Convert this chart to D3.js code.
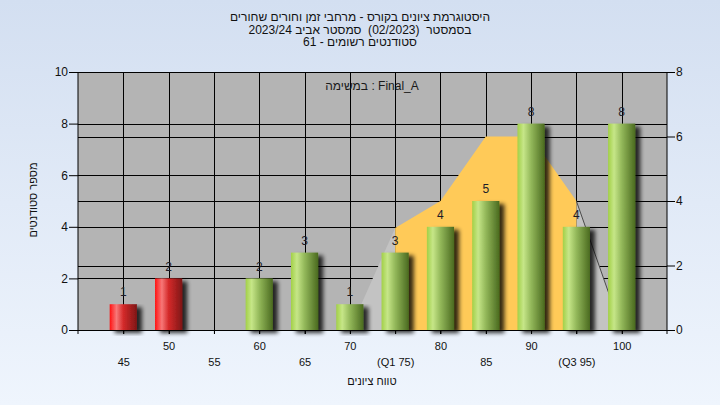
<!DOCTYPE html>
<html>
<head>
<meta charset="utf-8">
<script src="https://cdn.jsdelivr.net/npm/d3@7"></script>
<style>
  html, body { margin: 0; padding: 0; }
  body { width: 720px; height: 405px; overflow: hidden; }
  text { font-family: "Liberation Sans", Arial, "DejaVu Sans", sans-serif; }
</style>
</head>
<body>
<svg id="chart" width="720" height="405"></svg>
<script>
// ---- data ----
const categories = [45, 50, 55, 60, 65, 70, 75, 80, 85, 90, 95, 100];
const tickLabels = ["45", "50", "55", "60", "65", "70", "(Q1 75)", "80", "85", "90", "(Q3 95)", "100"];
const counts = [1, 2, 0, 2, 3, 1, 3, 4, 5, 8, 4, 8];
const failing = [true, true, false, false, false, false, false, false, false, false, false, false];
const curveX = [70, 75, 80, 85, 90, 95, 100];
const curveY = [0, 3.95, 5.0, 7.5, 7.5, 5.0, 0];
const q1 = 75, q3 = 95;
const leftTicks = [0, 2, 4, 6, 8, 10];
const rightTicks = [0, 2, 4, 6, 8];
const titleLines = [
  "היסטוגרמת ציונים בקורס - מרחבי זמן וחורים שחורים",
  "בסמסטר  (02/2023)  סמסטר אביב 2023/24",
  "סטודנטים רשומים - 61"
];
const legendText = "במשימה : Final_A";
const yTitle = "מספר סטודנטים";
const xTitle = "טווח ציונים";

// ---- layout ----
const W = 720, H = 405;
const L = 78, R = 667, T = 72, B = 330;
const svg = d3.select("#chart");
const defs = svg.append("defs");

const bg = defs.append("linearGradient").attr("id", "bg").attr("x1", 0).attr("y1", 0).attr("x2", 0).attr("y2", 1);
bg.append("stop").attr("offset", "0%").attr("stop-color", "#d3dff1");
bg.append("stop").attr("offset", "100%").attr("stop-color", "#eff5fd");

function cyl(id, stops) {
  const g = defs.append("linearGradient").attr("id", id).attr("x1", 0).attr("y1", 0).attr("x2", 1).attr("y2", 0);
  stops.forEach(s => g.append("stop").attr("offset", s[0]).attr("stop-color", s[1]));
}
cyl("gGreen", [["0%", "#a2d047"], ["22%", "#c6e688"], ["50%", "#93b85a"], ["100%", "#4a6a1f"]]);
cyl("gRed", [["0%", "#ff1212"], ["25%", "#f77878"], ["50%", "#d42a2a"], ["100%", "#7e1616"]]);

const sh = defs.append("filter").attr("id", "shadow").attr("x", "-30%").attr("y", "-10%").attr("width", "170%").attr("height", "130%");
sh.append("feGaussianBlur").attr("in", "SourceAlpha").attr("stdDeviation", 2).attr("result", "b");
sh.append("feOffset").attr("in", "b").attr("dx", 5).attr("dy", 3).attr("result", "o");
sh.append("feComponentTransfer").attr("in", "o").attr("result", "o2")
  .append("feFuncA").attr("type", "linear").attr("slope", 0.8);
const m = sh.append("feMerge");
m.append("feMergeNode").attr("in", "o2");
m.append("feMergeNode").attr("in", "SourceGraphic");

svg.append("rect").attr("width", W).attr("height", H).attr("fill", "url(#bg)");

// scales
const x = d3.scaleLinear().domain([40, 105]).range([L, R]);
const yL = d3.scaleLinear().domain([0, 10]).range([B, T]);
const yR = d3.scaleLinear().domain([0, 8]).range([B, T]);

// plot background
svg.append("rect").attr("x", L).attr("y", T).attr("width", R - L).attr("height", B - T).attr("fill", "#b4b4b4");

// gridlines
const grid = svg.append("g").attr("stroke", "#000").attr("stroke-width", 1);
leftTicks.forEach(v => grid.append("line").attr("x1", L).attr("x2", R).attr("y1", Math.round(yL(v)) + 0.5).attr("y2", Math.round(yL(v)) + 0.5));
rightTicks.forEach(v => grid.append("line").attr("x1", L).attr("x2", R).attr("y1", Math.round(yR(v)) + 0.5).attr("y2", Math.round(yR(v)) + 0.5));
categories.forEach(c => grid.append("line").attr("x1", Math.round(x(c)) + 0.5).attr("x2", Math.round(x(c)) + 0.5).attr("y1", T).attr("y2", B + 4));

// area curve
const pts = curveX.map((c, i) => ({ c, v: curveY[i] }));
const area = d3.area().x(d => x(d.c)).y0(yL(0)).y1(d => yL(d.v));
svg.append("path").datum(pts.filter(d => d.c <= q1)).attr("d", area).attr("fill", "#c3c3c3");
svg.append("path").datum(pts.filter(d => d.c >= q3)).attr("d", area).attr("fill", "#c3c3c3");
svg.append("path").datum(pts.filter(d => d.c >= q1 && d.c <= q3)).attr("d", area).attr("fill", "#ffca58");
svg.append("path").datum(pts.filter(d => d.c >= q3))
  .attr("d", d3.line().x(d => x(d.c)).y(d => yL(d.v)))
  .attr("fill", "none").attr("stroke", "#4a4a4a").attr("stroke-width", 1);

// bars
const bw = x(46.5) - x(45);
svg.append("g").selectAll("rect").data(categories.map((c, i) => ({ c, v: counts[i], f: failing[i] })).filter(d => d.v > 0))
  .join("rect")
  .attr("x", d => x(d.c) - bw).attr("width", bw * 2)
  .attr("y", d => yL(d.v)).attr("height", d => yL(0) - yL(d.v))
  .attr("fill", d => d.f ? "url(#gRed)" : "url(#gGreen)")
  .attr("filter", "url(#shadow)");

// value labels
svg.append("g").selectAll("text").data(categories.map((c, i) => ({ c, v: counts[i] })).filter(d => d.v > 0))
  .join("text")
  .attr("x", d => x(d.c)).attr("y", d => yL(d.v) - 12).attr("dy", "0.35em")
  .attr("text-anchor", "middle").attr("font-size", 12).attr("fill", "#1c1c28")
  .text(d => d.v);

// axes
const axL = svg.append("g").attr("transform", `translate(${L},0)`)
  .call(d3.axisLeft(yL).tickValues(leftTicks).tickSize(9).tickPadding(1).tickFormat(d3.format("d")));
const axR = svg.append("g").attr("transform", `translate(${R},0)`)
  .call(d3.axisRight(yR).tickValues(rightTicks).tickSize(8).tickPadding(1).tickFormat(d3.format("d")));
[axL, axR].forEach(a => {
  a.select(".domain").attr("d", `M0,${T}V${B + 4}`).attr("stroke", "#000");
  a.selectAll(".tick line").attr("stroke", "#000");
  a.selectAll("text").attr("font-size", 12).attr("fill", "#111").style("font-family", '"Liberation Sans", Arial, sans-serif');
});
svg.append("line").attr("x1", L).attr("x2", R).attr("y1", T + 0.5).attr("y2", T + 0.5).attr("stroke", "#000");

const axB = svg.append("g").attr("transform", `translate(0,${B})`)
  .call(d3.axisBottom(x).tickValues(categories).tickSize(4).tickFormat((d, i) => tickLabels[i]));
axB.select(".domain").attr("d", `M${L},0.5H${R + 8}`).attr("stroke", "#000");
axB.selectAll(".tick line").attr("stroke", "#000");
axB.selectAll("text")
  .attr("y", (d, i) => i % 2 === 0 ? 32.5 : 16)
  .attr("dy", "0.35em")
  .attr("font-size", 11).attr("fill", "#111")
  .style("font-family", '"Liberation Sans", Arial, sans-serif');

// titles
titleLines.forEach((t, i) => {
  svg.append("text").attr("x", 360).attr("y", 17 + i * 12.5).attr("dy", "0.35em")
    .attr("text-anchor", "middle").attr("font-size", 12).attr("fill", "#111")
    .attr("direction", i === 1 ? "rtl" : "ltr")
    .style("white-space", "pre")
    .text(t);
});
svg.append("text").attr("x", 372).attr("y", 86).attr("dy", "0.35em")
  .attr("text-anchor", "middle").attr("font-size", 12).attr("fill", "#1a1a1a").text(legendText);
svg.append("text").attr("transform", "translate(33,200) rotate(-90)").attr("dy", "0.35em")
  .attr("text-anchor", "middle").attr("font-size", 11).attr("fill", "#111").text(yTitle);
svg.append("text").attr("x", 372).attr("y", 381).attr("dy", "0.35em")
  .attr("text-anchor", "middle").attr("font-size", 11).attr("fill", "#111").text(xTitle);
</script>
</body>
</html>
